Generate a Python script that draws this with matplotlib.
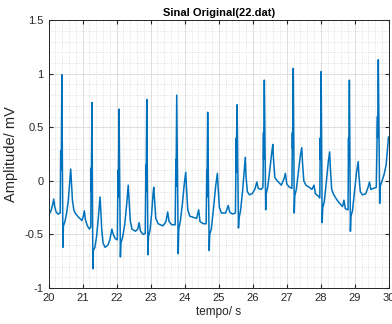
import numpy as np
import matplotlib.pyplot as plt
from matplotlib.ticker import MultipleLocator

# ECG trace vertices (time in s, amplitude in mV), one row per beat
t_pts = [
    20.00, 20.04, 20.08, 20.12, 20.15, 20.18, 20.22, 20.28, 20.34, 20.355, 20.365, 20.375, 20.39, 20.42, 20.435, 20.48, 20.53, 20.58, 20.62, 20.65, 20.67, 20.70, 20.74, 20.78, 20.88, 20.98, 21.02, 21.05, 21.08, 21.14, 21.20, 21.24,
    21.25, 21.255, 21.26, 21.275, 21.30, 21.315, 21.36, 21.41, 21.46, 21.51, 21.53, 21.56, 21.60, 21.66, 21.74, 21.80, 21.86, 21.90, 21.96, 22.02,
    22.04, 22.05, 22.055, 22.07, 22.11, 22.125, 22.18, 22.24, 22.30, 22.34, 22.36, 22.40, 22.45, 22.55, 22.62, 22.66, 22.70, 22.78, 22.84,
    22.86, 22.865, 22.87, 22.885, 22.92, 22.935, 22.98, 23.03, 23.07, 23.09, 23.11, 23.15, 23.22, 23.36, 23.45, 23.50, 23.54, 23.62, 23.72,
    23.74, 23.745, 23.75, 23.765, 23.81, 23.825, 23.87, 23.93, 23.99, 24.03, 24.05, 24.09, 24.15, 24.25, 24.35, 24.41, 24.45, 24.55, 24.63,
    24.65, 24.655, 24.66, 24.675, 24.72, 24.735, 24.78, 24.84, 24.91, 24.96, 24.98, 25.02, 25.08, 25.20, 25.28, 25.32, 25.40, 25.49,
    25.515, 25.52, 25.525, 25.54, 25.58, 25.595, 25.64, 25.70, 25.75, 25.78, 25.80, 25.84, 25.90, 25.98, 26.06, 26.12, 26.16, 26.24, 26.30,
    26.315, 26.32, 26.325, 26.34, 26.38, 26.395, 26.44, 26.50, 26.56, 26.59, 26.61, 26.65, 26.72, 26.84, 26.92, 26.96, 27.00, 27.08, 27.15,
    27.165, 27.17, 27.175, 27.19, 27.22, 27.235, 27.28, 27.34, 27.40, 27.44, 27.46, 27.50, 27.56, 27.66, 27.74, 27.80, 27.84, 27.92, 27.97,
    27.985, 27.99, 27.995, 28.01, 28.04, 28.055, 28.10, 28.16, 28.22, 28.26, 28.28, 28.32, 28.38, 28.48, 28.58, 28.64, 28.68, 28.72, 28.80,
    28.815, 28.82, 28.825, 28.84, 28.87, 28.885, 28.93, 28.99, 29.05, 29.10, 29.12, 29.16, 29.22, 29.32, 29.39, 29.43, 29.47, 29.55, 29.63,
    29.665, 29.67, 29.675, 29.69, 29.73, 29.745, 29.80, 29.86, 29.92, 29.96, 29.99, 30.00,
]
v_pts = [
    -0.28, -0.30, -0.27, -0.22, -0.17, -0.24, -0.29, -0.31, -0.30, 0.28, 0.10, 0.30, 0.99, -0.62, -0.42, -0.38, -0.30, -0.18, -0.02, 0.11, 0.00, -0.18, -0.27, -0.30, -0.34, -0.37, -0.33, -0.28, -0.36, -0.42, -0.45, -0.43,
    0.12, -0.10, 0.15, 0.73, -0.82, -0.65, -0.62, -0.52, -0.35, -0.15, -0.25, -0.45, -0.58, -0.62, -0.60, -0.55, -0.45, -0.50, -0.54, -0.55,
    0.10, -0.15, 0.12, 0.67, -0.71, -0.58, -0.52, -0.40, -0.20, -0.04, -0.15, -0.37, -0.45, -0.47, -0.45, -0.39, -0.47, -0.50, -0.49,
    0.15, -0.10, 0.15, 0.76, -0.69, -0.52, -0.46, -0.30, -0.12, -0.06, -0.16, -0.35, -0.40, -0.42, -0.38, -0.29, -0.38, -0.41, -0.41,
    0.20, -0.05, 0.20, 0.80, -0.68, -0.45, -0.38, -0.22, -0.02, 0.08, -0.05, -0.27, -0.33, -0.34, -0.35, -0.27, -0.38, -0.40, -0.40,
    0.10, -0.15, 0.10, 0.64, -0.65, -0.50, -0.45, -0.28, -0.05, 0.07, -0.05, -0.25, -0.30, -0.30, -0.23, -0.29, -0.31, -0.30,
    0.40, 0.08, 0.40, 0.71, -0.44, -0.35, -0.28, -0.10, 0.10, 0.22, 0.05, -0.10, -0.13, -0.12, -0.08, -0.01, -0.07, -0.08, -0.06,
    0.45, 0.20, 0.45, 0.94, -0.27, -0.12, -0.06, 0.10, 0.27, 0.34, 0.20, 0.03, 0.00, -0.04, 0.02, 0.07, -0.03, -0.06, -0.07,
    0.45, 0.30, 0.50, 1.05, -0.30, -0.14, -0.08, 0.08, 0.24, 0.31, 0.18, 0.00, -0.04, -0.06, -0.08, -0.04, -0.12, -0.14, -0.16,
    0.40, 0.20, 0.40, 1.02, -0.39, -0.25, -0.20, -0.02, 0.18, 0.27, 0.12, -0.08, -0.13, -0.18, -0.22, -0.24, -0.18, -0.26, -0.27,
    0.40, 0.20, 0.40, 0.94, -0.47, -0.33, -0.28, -0.10, 0.08, 0.18, 0.05, -0.10, -0.13, -0.12, -0.06, -0.01, -0.08, -0.07, -0.06,
    0.60, 0.40, 0.60, 1.13, -0.21, -0.05, 0.00, 0.06, 0.15, 0.30, 0.41, 0.40,
]

x_ticks = [20, 21, 22, 23, 24, 25, 26, 27, 28, 29, 30]
y_ticks = [-1, -0.5, 0, 0.5, 1, 1.5]
y_labels = ['-1', '-0.5', '0', '0.5', '1', '1.5']

plt.rcParams['font.family'] = ['Liberation Sans', 'DejaVu Sans']

fig = plt.figure(figsize=(3.92, 3.24), dpi=100)
ax = fig.add_axes([0.124, 0.111, 0.868, 0.827])

ax.plot(t_pts, v_pts, color='#0072BD', linewidth=1.1)

ax.set_xlim(20, 30)
ax.set_ylim(-1, 1.5)
ax.set_xticks(x_ticks)
ax.set_yticks(y_ticks)
ax.set_yticklabels(y_labels)
ax.xaxis.set_minor_locator(MultipleLocator(0.2))
ax.yaxis.set_minor_locator(MultipleLocator(0.1))

ax.grid(True, which='major', color='#d9d9d9', linewidth=0.6)
ax.grid(True, which='minor', color='#d0d0d0', linestyle=':', linewidth=0.5)
ax.set_axisbelow(True)

ax.tick_params(which='both', direction='in', top=True, right=True, colors='#262626', labelsize=8)
ax.tick_params(which='major', length=3)
ax.tick_params(which='minor', length=0)
for s in ax.spines.values():
    s.set_color('#262626')
    s.set_linewidth(0.7)

ax.set_title('Sinal Original(22.dat)', fontsize=8, fontweight='bold', pad=3)
ax.set_xlabel('tempo/ s', fontsize=8.5, color='#262626', labelpad=2)
ax.set_ylabel('Amplitude/ mV', fontsize=10.5, color='#262626', labelpad=5)

fig.savefig('out.png', dpi=100)
